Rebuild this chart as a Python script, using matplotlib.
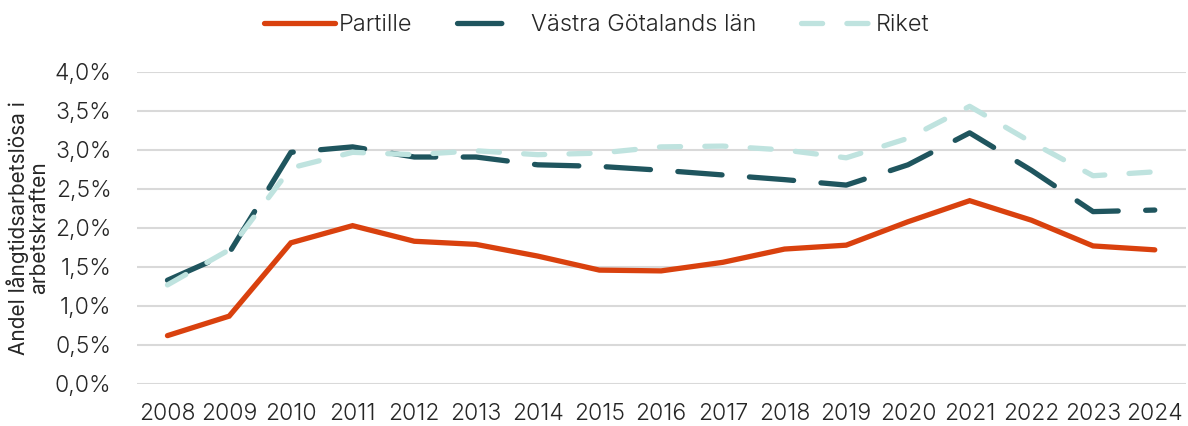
import numpy as np
import matplotlib.pyplot as plt
from matplotlib.ticker import FuncFormatter

years = list(range(2008, 2025))
partille = [0.62, 0.87, 1.81, 2.03, 1.83, 1.79, 1.64, 1.46, 1.45, 1.56, 1.73, 1.78, 2.08, 2.35, 2.10, 1.77, 1.72]
vgl = [1.33, 1.68, 2.97, 3.04, 2.91, 2.91, 2.81, 2.79, 2.74, 2.68, 2.62, 2.55, 2.81, 3.22, 2.74, 2.21, 2.23]
riket = [1.27, 1.72, 2.77, 2.97, 2.94, 2.99, 2.94, 2.96, 3.04, 3.05, 3.00, 2.90, 3.15, 3.56, 3.10, 2.67, 2.72]

plt.rcParams['font.family'] = ['Inter', 'DejaVu Sans']
plt.rcParams['font.weight'] = 300
text_col = '#262626'

fig = plt.figure(figsize=(11.88, 4.26), dpi=100)
ax = fig.add_axes([0.115, 0.0986, 0.883, 0.7324])

x = np.arange(len(years))
lw = 3.8
ax.plot(x, riket, color='#BFE3DF', lw=lw, dashes=(4.0, 4.6), dash_capstyle='round',
        label='Riket', zorder=3)
ax.plot(x, vgl, color='#1F555E', lw=lw, dashes=(8.4, 5.2), dash_capstyle='round',
        label='Västra Götalands län', zorder=2)
ax.plot(x, partille, color='#D9410E', lw=lw, solid_capstyle='round',
        solid_joinstyle='miter', label='Partille', zorder=4)

ax.set_xlim(-0.5, len(years) - 0.5)
ax.set_ylim(0, 4.0)
ax.set_yticks(np.arange(0, 4.01, 0.5))
ax.yaxis.set_major_formatter(FuncFormatter(lambda v, p: f'{v:.1f}%'.replace('.', ',')))
ax.set_xticks(x)
ax.set_xticklabels([str(y) for y in years])
ax.grid(axis='y', color='#D9D9D9', lw=1.5)
ax.set_axisbelow(True)
for s in ax.spines.values():
    s.set_visible(False)
ax.tick_params(length=0, labelsize=16.5, labelcolor=text_col)
ax.tick_params(axis='x', pad=14)
ax.tick_params(axis='y', pad=18)
ax.set_ylabel('Andel långtidsarbetslösa i\narbetskraften', fontsize=15, color=text_col,
              linespacing=1.0, labelpad=4)

handles, labels = ax.get_legend_handles_labels()
order = [2, 1, 0]
ax.legend([handles[i] for i in order], [labels[i] for i in order], loc='center',
          bbox_to_anchor=(0.4385, 1.15), ncol=3, frameon=False,
          fontsize=17, handlelength=3.0, handletextpad=0.15, columnspacing=1.9,
          labelcolor=text_col)

fig.savefig('out.png', dpi=100)
